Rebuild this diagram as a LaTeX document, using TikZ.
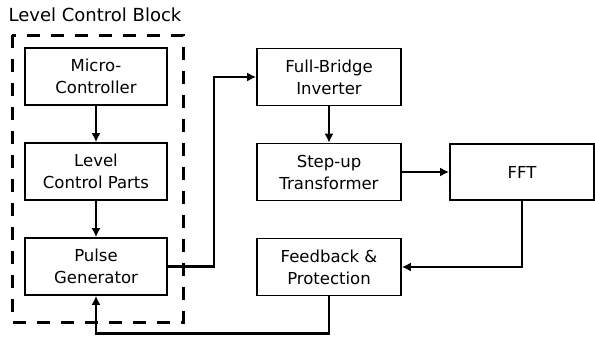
\documentclass[tikz,border=0pt]{standalone}
\usepackage{fontspec}
\setmainfont{DejaVu Sans}
\usetikzlibrary{arrows.meta,positioning}

\tikzset{
  blockbox/.style={draw, line width=1.6pt, minimum width=142pt, minimum height=57pt,
    align=center, inner sep=0pt, font=\fontsize{16.5}{22}\selectfont},
  flow/.style={line width=2.6pt, -{Latex[length=9pt,width=9pt]}}
}

\begin{document}
\begin{tikzpicture}[x=1pt,y=-1pt]
  \useasboundingbox (0,0) rectangle (595,338);
  % level control block
  \node[font=\fontsize{18}{22}\selectfont] (title) at (95,15) {Level Control Block};
  \draw[line width=3pt, dash pattern=on 13pt off 11pt] (12,35) rectangle (183,322);
  \node[blockbox] (micro) at (96,76.5) {Micro-\\Controller};
  \node[blockbox] (level) at (96,171.5) {Level\\Control Parts};
  \node[blockbox] (pulse) at (96,266.5) {Pulse\\Generator};
  % power stage
  \node[blockbox, minimum width=144pt] (bridge) at (329,77) {Full-Bridge\\Inverter};
  \node[blockbox, minimum width=144pt] (stepup) at (329,172) {Step-up\\Transformer};
  \node[blockbox, minimum width=144pt] (feedback) at (329,267) {Feedback \&\\Protection};
  \node[blockbox, minimum width=144pt, minimum height=56pt] (fft) at (522,172) {FFT};
  % connections
  \draw[flow] (micro) -- (level);
  \draw[flow] (level) -- (pulse);
  \draw[flow] (pulse.east) -- ++(46,0) |- (bridge.west);
  \draw[flow] (bridge) -- (stepup);
  \draw[flow] (stepup) -- (fft);
  \draw[flow] (fft.south) |- (feedback.east);
  \draw[flow] (feedback.south) -- ++(0,37) -| (pulse.south);
\end{tikzpicture}
\end{document}
